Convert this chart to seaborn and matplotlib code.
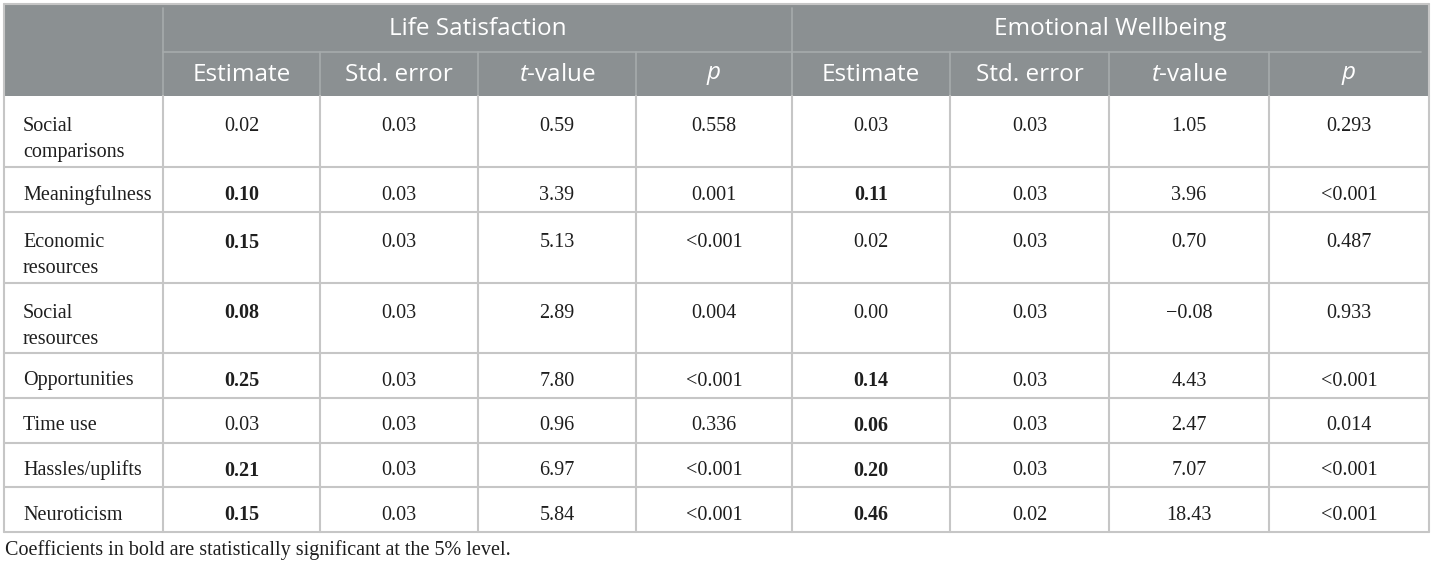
import matplotlib
matplotlib.use('Agg')
import matplotlib.pyplot as plt
import seaborn as sns
from matplotlib.patches import Rectangle

# %%
# valores da tabela
predictors = ['Social\ncomparisons', 'Meaningfulness', 'Economic\nresources', 'Social\nresources',
              'Opportunities', 'Time use', 'Hassles/uplifts', 'Neuroticism']

ls_est = ['0.02', '0.10', '0.15', '0.08', '0.25', '0.03', '0.21', '0.15']
ls_se = ['0.03', '0.03', '0.03', '0.03', '0.03', '0.03', '0.03', '0.03']
ls_t = ['0.59', '3.39', '5.13', '2.89', '7.80', '0.96', '6.97', '5.84']
ls_p = ['0.558', '0.001', '<0.001', '0.004', '<0.001', '0.336', '<0.001', '<0.001']
ls_bold = [False, True, True, True, True, False, True, True]

ew_est = ['0.03', '0.11', '0.02', '0.00', '0.14', '0.06', '0.20', '0.46']
ew_se = ['0.03', '0.03', '0.03', '0.03', '0.03', '0.03', '0.03', '0.02']
ew_t = ['1.05', '3.96', '0.70', '\u22120.08', '4.43', '2.47', '7.07', '18.43']
ew_p = ['0.293', '<0.001', '0.487', '0.933', '<0.001', '0.014', '<0.001', '<0.001']
ew_bold = [False, True, False, False, True, True, True, True]

groups = ['Life Satisfaction', 'Emotional Wellbeing']
sub_headers = ['Estimate', 'Std. error', r'$\mathit{t}$-value', r'$\mathit{p}$']
footnote = 'Coefficients in bold are statistically significant at the 5% level.'

# %%
sns.set_theme(style='white')
plt.rcParams['mathtext.fontset'] = 'custom'
plt.rcParams['mathtext.rm'] = 'Open Sans'
plt.rcParams['mathtext.it'] = 'Open Sans:italic'

W, H = 1434, 567
fig = plt.figure(figsize=(W / 100, H / 100), dpi=100)
ax = fig.add_axes([0, 0, 1, 1])
ax.set_xlim(0, W)
ax.set_ylim(H, 0)
ax.axis('off')

# grade em pixels
x_edges = [4, 163, 320, 478, 636, 792, 950, 1109, 1269, 1429]
y_top, y_mid, y_head = 4, 52, 96
row_edges = [96, 167, 212, 283, 353, 398, 443, 487, 532]

head_color = '#8b9092'
head_line = '#a6abac'
grid_color = '#c6c6c6'
text_color = '#1e1e1e'
serif = ['Liberation Serif', 'DejaVu Serif']
sans = ['Open Sans', 'DejaVu Sans']
fs_body = 14.5
fs_head = 17.5

# cabeçalho
ax.add_patch(Rectangle((x_edges[0], y_top), x_edges[-1] - x_edges[0], y_head - y_top,
                       facecolor=head_color, edgecolor='none'))
ax.plot([x_edges[1], x_edges[1]], [y_top + 4, y_head], color=head_line, lw=1.2)
ax.plot([x_edges[5], x_edges[5]], [y_top + 4, y_head], color=head_line, lw=1.2)
ax.plot([x_edges[1], 1421], [y_mid, y_mid], color=head_line, lw=1.2)
for x in x_edges[2:-1]:
    ax.plot([x, x], [y_mid, y_head], color=head_line, lw=1.2)

for g, name in enumerate(groups):
    xc = (x_edges[1 + 4 * g] + x_edges[5 + 4 * g]) / 2
    ax.text(xc, (y_top + y_mid) / 2 + 1, name, ha='center', va='center',
            color='white', fontsize=fs_head, family=sans)
    for j, sub in enumerate(sub_headers):
        xc = (x_edges[1 + 4 * g + j] + x_edges[2 + 4 * g + j]) / 2
        ax.text(xc, (y_mid + y_head) / 2 + 1, sub, ha='center', va='center',
                color='white', fontsize=fs_head, family=sans)

# corpo da tabela
columns = [ls_est, ls_se, ls_t, ls_p, ew_est, ew_se, ew_t, ew_p]
bold_cols = {0: ls_bold, 4: ew_bold}

for i, label in enumerate(predictors):
    top = row_edges[i]
    bottom = row_edges[i + 1]
    if '\n' in label:
        y_first = top + 28
        first, second = label.split('\n')
        ax.text(23, y_first, first, ha='left', va='center_baseline', fontsize=fs_body, family=serif, color=text_color)
        ax.text(23, y_first + 26, second, ha='left', va='center_baseline', fontsize=fs_body, family=serif, color=text_color)
    else:
        y_first = (top + bottom) / 2 + 3
        ax.text(23, y_first, label, ha='left', va='center_baseline', fontsize=fs_body, family=serif, color=text_color)
    for j, col in enumerate(columns):
        xc = (x_edges[j + 1] + x_edges[j + 2]) / 2
        weight = 'bold' if (j in bold_cols and bold_cols[j][i]) else 'normal'
        ax.text(xc, y_first, col[i], ha='center', va='center_baseline', fontsize=fs_body,
                family=serif, weight=weight, color=text_color)

# linhas da grade
for y in row_edges[1:]:
    ax.plot([x_edges[0], x_edges[-1]], [y, y], color=grid_color, lw=1.5)
for x in x_edges:
    ax.plot([x, x], [y_head, row_edges[-1]], color=grid_color, lw=1.5)
ax.plot([x_edges[0], x_edges[0]], [y_top, y_head], color=grid_color, lw=1.5)
ax.plot([x_edges[-1], x_edges[-1]], [y_top, y_head], color=grid_color, lw=1.5)
ax.plot([x_edges[0], x_edges[-1]], [y_top, y_top], color=grid_color, lw=1.5)

ax.text(5, 548, footnote, ha='left', va='center_baseline', fontsize=14.5, family=serif, color=text_color)

fig.savefig('out.png', dpi=100)
